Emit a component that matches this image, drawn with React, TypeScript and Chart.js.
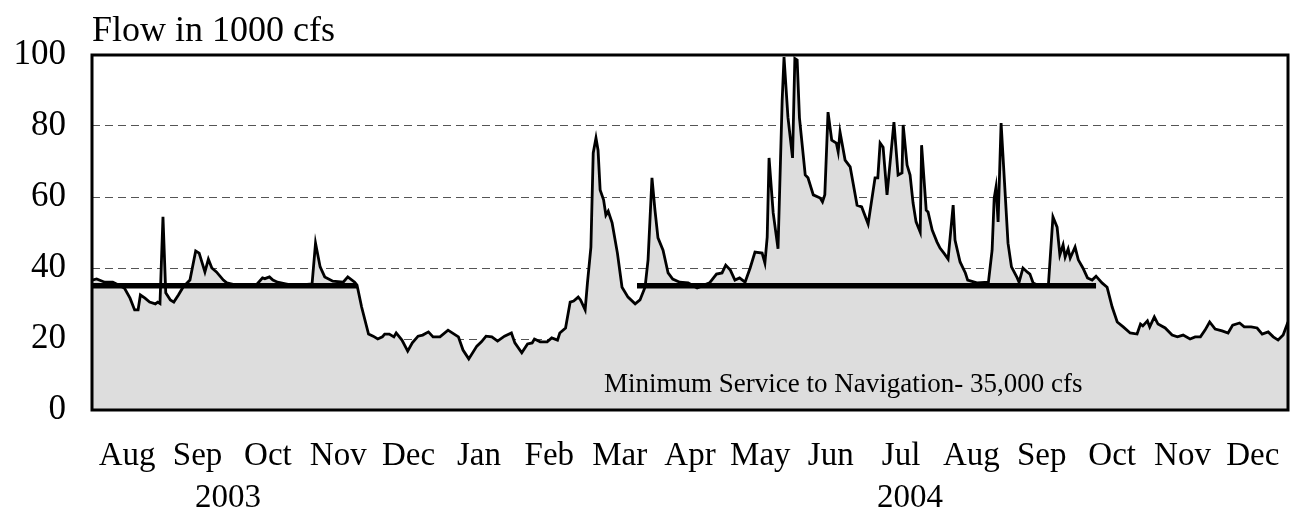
import React, { useEffect, useRef } from 'react';
import { Chart, registerables } from 'chart.js';

Chart.register(...registerables);

// Month labels (Aug 2003 .. Dec 2004)
const monthLabels = ['Aug', 'Sep', 'Oct', 'Nov', 'Dec', 'Jan', 'Feb', 'Mar', 'Apr', 'May', 'Jun', 'Jul', 'Aug', 'Sep', 'Oct', 'Nov', 'Dec'];
const yearLabels = ['2003', '2004'];
const yearLabelDays = [59, 355];
const yTickValues = [0, 20, 40, 60, 80, 100];
const totalDays = 519; // days since 1 Aug 2003

// Minimum service to navigation (1000 cfs) and its seasons (days since 1 Aug 2003)
const navigationFlow = 35;
const navigationSeasons: [number, number][] = [[0, 115], [236.5, 435.7]];
const navigationNote = 'Minimum Service to Navigation- 35,000 cfs';
const yAxisTitle = 'Flow in 1000 cfs';

// Daily flow, 1000 cfs: [day since 1 Aug 2003, flow]
const flowAugNov2003: [number, number][] = [
  [0, 36.6], [2, 36.9], [5.5, 36], [9, 36], [14, 34.4], [16.5, 31.5], [18.5, 28.2], [20, 28.2], [21, 32.4],
  [23, 31.5], [25, 30.4], [27.5, 29.9], [28.5, 30.4], [29.5, 30], [30.8, 54.4], [32, 33], [34, 31], [35.5, 30.4],
  [37.5, 32.4], [39.5, 34.6], [42.5, 36.6], [45, 44.8], [46.5, 44.2], [49, 38.9], [50.5, 42.5], [52, 40],
  [54, 38.9], [57, 36.6], [58.5, 35.8], [64, 35], [71, 35], [74, 37.2], [75, 37], [77, 37.5], [78.5, 36.6],
  [80.5, 36], [88, 35], [95.5, 35.5], [97, 47], [99, 40.3], [101, 37.5], [104.5, 36.3], [109, 36], [111, 37.5],
  [114, 36], [115, 35.2],
];
const flowNov2003Mar2004: [number, number][] = [
  [117, 29], [120, 21.4], [122, 20.8], [124, 20], [126, 20.6], [127, 21.4], [129, 21.4], [131, 20.6], [132, 21.7],
  [134.5, 19.7], [137, 16.6], [139, 18.9], [141.5, 20.8], [143.5, 21.1], [146, 22], [148, 20.6], [151, 20.6],
  [154.5, 22.5], [159, 20.6], [161, 16.9], [163.5, 14.4], [167, 18], [169, 19.2], [171, 20.8], [173.5, 20.6],
  [176, 19.4], [179, 20.8], [182, 21.7], [183.5, 18.9], [186.5, 16.1], [189, 18.6], [191, 18.9], [192, 20],
  [194.5, 19.2], [197.5, 19.2], [199.5, 20.3], [202, 19.7], [203, 21.7], [205.5, 23.1], [207.5, 30.4], [209, 30.7],
  [211, 31.8], [212, 31], [214, 28.2], [215, 35.8], [216.5, 45.9], [217.5, 72.4], [218.7, 76.6], [219.6, 73.2],
  [220.5, 62], [222, 59.2], [223, 54.9], [224, 56], [225.7, 52.7], [228, 44.2], [230, 34.6], [232.6, 31.8],
  [235.7, 29.9], [237.8, 31],
];
const flowMarOct2004: [number, number][] = [
  [240, 34.6], [241.3, 42.3], [243, 65.4], [244.3, 56.3], [245.6, 48.5], [247.8, 45], [250, 38.6], [252, 36.9],
  [255, 36], [258.7, 35.8], [262.6, 34.4], [268, 35.8], [271, 38.3], [273.4, 38.6], [275, 40.8], [277, 39.4],
  [279, 36.6], [281, 37.2], [283.4, 36], [285.6, 40], [287.7, 44.5], [290.8, 44.2], [292, 41.4], [293, 48.7],
  [293.8, 71], [295.6, 55.5], [297.7, 45.4], [299.5, 87.3], [300.3, 99.4], [302, 82.5], [304, 71], [305, 99],
  [306, 98.6], [307, 82.3], [309.5, 66.2], [310.7, 65.4], [313, 60.6], [316, 59.7], [317, 58.6], [318, 60.6],
  [319.4, 83.9], [321, 76], [323, 75.2], [323.8, 72.7], [324.6, 78.3], [326.8, 70.4], [329, 68.5], [332, 57.7],
  [334, 57.2], [336.8, 52.4], [339.8, 65.4], [341, 65.4], [342, 75.2], [343.3, 74], [345, 60.6], [348, 81.1],
  [349.8, 66.2], [351.5, 66.8], [352, 80.3], [353.7, 69], [355, 66.2], [356.3, 58.3], [357.6, 53], [359.4, 50.1],
  [360, 74.6], [362, 56.3], [362.8, 55.8], [364.6, 50.7], [366.7, 47.3], [368, 45.6], [370, 43.9], [371.5, 42.5],
  [373.7, 57.7], [374.5, 47.9], [376.7, 41.7], [379, 38.6], [380, 36.6], [384, 35.8], [389, 36], [390.6, 45],
  [391.5, 59.7], [392.3, 62.8], [393.2, 53], [394.5, 80.8], [396, 63.9], [397.5, 47], [399, 40.3], [401.5, 37.2],
  [402.3, 36], [404, 40], [405.8, 38.9], [407, 38.3], [408.4, 35.8], [411, 35], [415, 35], [417, 54.4],
  [418.8, 51.5], [420, 43.7], [421.4, 46.5], [422.3, 43.1], [423.6, 45.4], [424.5, 42.8], [426.6, 45.9],
  [428, 42.3], [430, 40], [432, 37.2], [434, 36.6], [435.7, 37.7],
];
const flowOctDec2004: [number, number][] = [
  [438.3, 35.8], [440.5, 34.6], [442.7, 29], [444.9, 24.8], [447.5, 23.4], [450.5, 21.7], [453.5, 21.4],
  [455, 24.2], [456, 23.7], [458, 25.1], [459, 23.4], [461, 26.2], [462.6, 24.2], [465.7, 23.1], [468.7, 21.1],
  [471, 20.6], [473.5, 21.1], [476.5, 20], [478.7, 20.6], [481, 20.6], [483, 22.5], [485, 24.8], [487.4, 22.8],
  [490.4, 22.3], [493, 21.7], [495, 23.9], [498, 24.5], [500, 23.4], [503, 23.4], [505.6, 23.1], [507.8, 21.4],
  [510.4, 22], [512.6, 20.6], [514.7, 19.7], [516.9, 21.1], [519, 24.8],
];

const FONT = "'Liberation Serif', 'Times New Roman', serif";

export default function App() {
  const canvasRef = useRef<HTMLCanvasElement | null>(null);

  useEffect(() => {
    const canvas = canvasRef.current;
    if (!canvas) return;

    const flowData = [...flowAugNov2003, ...flowNov2003Mar2004, ...flowMarOct2004, ...flowOctDec2004].map(
      ([x, y]) => ({ x, y })
    );
    const navData: { x: number; y: number | null }[] = [];
    navigationSeasons.forEach(([a, b], i) => {
      if (i > 0) navData.push({ x: (navigationSeasons[i - 1][1] + a) / 2, y: null });
      navData.push({ x: a, y: navigationFlow });
      navData.push({ x: b, y: navigationFlow });
    });

    const textPlugin = {
      id: 'extraText',
      afterDraw(chart: any) {
        const { ctx, chartArea } = chart;
        const xs = chart.scales.x;
        ctx.save();
        // plot frame
        ctx.lineWidth = 3;
        ctx.strokeStyle = '#000';
        ctx.strokeRect(chartArea.left, chartArea.top, chartArea.right - chartArea.left, chartArea.bottom - chartArea.top);
        ctx.fillStyle = '#000';
        // y axis title
        ctx.font = `36px ${FONT}`;
        ctx.textAlign = 'left';
        ctx.textBaseline = 'alphabetic';
        ctx.fillText(yAxisTitle, chartArea.left, 41);
        // years
        ctx.font = `33px ${FONT}`;
        ctx.textAlign = 'center';
        yearLabels.forEach((t, i) => {
          ctx.fillText(t, xs.getPixelForValue(yearLabelDays[i]), 507);
        });
        // note
        ctx.font = `27px ${FONT}`;
        ctx.textAlign = 'left';
        ctx.fillText(navigationNote, 604, 392);
        ctx.restore();
      },
    };

    const chart = new Chart(canvas, {
      type: 'line',
      data: {
        datasets: [
          {
            label: 'Minimum service',
            data: navData as any,
            borderColor: '#000',
            borderWidth: 5.5,
            pointRadius: 0,
            fill: false,
            spanGaps: false,
            order: 1,
            xAxisID: 'x',
            yAxisID: 'y',
          },
          {
            label: 'Flow',
            data: flowData,
            borderColor: '#000',
            borderWidth: 2.8,
            backgroundColor: '#dddddd',
            fill: 'origin',
            pointRadius: 0,
            tension: 0,
            order: 2,
            xAxisID: 'x',
            yAxisID: 'y',
          },
        ],
      },
      plugins: [textPlugin],
      options: {
        animation: false,
        responsive: true,
        maintainAspectRatio: false,
        layout: { padding: { top: 55, right: 10, left: 0, bottom: 0 } },
        plugins: { legend: { display: false }, tooltip: { enabled: false }, title: { display: false } },
        scales: {
          x: { type: 'linear', min: 0, max: totalDays, display: false },
          m: {
            type: 'category',
            labels: monthLabels,
            position: 'bottom',
            offset: true,
            grid: { display: false, drawTicks: false },
            border: { display: false },
            ticks: {
              autoSkip: false,
              maxRotation: 0,
              padding: 27,
              color: '#000',
              font: { family: FONT, size: 33 },
            },
            afterFit: (s: any) => {
              s.height = 107;
              s.paddingLeft = 0;
              s.paddingRight = 0;
            },
          },
          y: {
            type: 'linear',
            min: 0,
            max: 100,
            afterBuildTicks: (s: any) => {
              s.ticks = yTickValues.map((v) => ({ value: v }));
            },
            ticks: {
              padding: 26,
              color: '#000',
              font: { family: FONT, size: 35 },
            },
            grid: {
              drawTicks: false,
              lineWidth: 1,
              color: (c: any) => (c.tick && (c.tick.value === 0 || c.tick.value === 100) ? 'rgba(0,0,0,0)' : '#555'),
            },
            border: { display: false, dash: [8, 5] },
            afterFit: (s: any) => {
              s.width = 92;
              s.paddingTop = 0;
              s.paddingBottom = 0;
            },
          },
        },
      },
    });

    return () => chart.destroy();
  }, []);

  return (
    <div style={{ position: 'fixed', left: 0, top: 0, width: 1298, height: 517, background: '#fff' }}>
      <canvas ref={canvasRef} />
    </div>
  );
}
